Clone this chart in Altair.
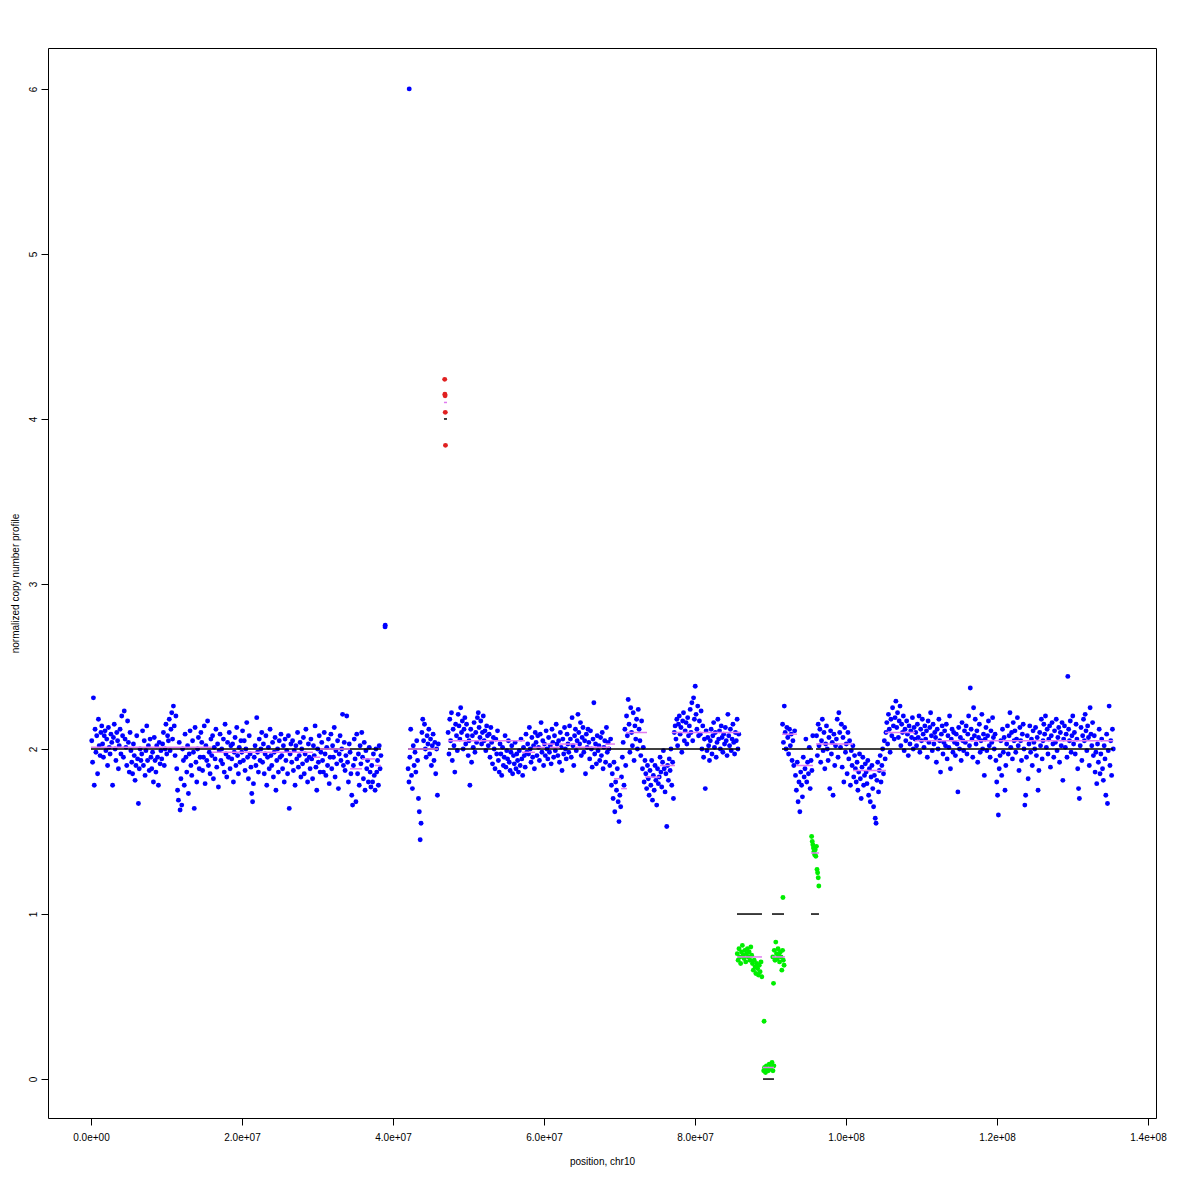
import altair as alt
import pandas as pd
import numpy as np

# ---------------- data (ratio * ploidy per window) ----------------
# run A: 0 - 38.4 Mb (normal)
A_VALS = [
2.05,1.92,2.31,1.78,2.12,1.98,2.08,1.85,2.18,2.02,1.96,2.10,
2.14,2.03,1.95,2.08,2.11,1.99,2.06,1.90,2.13,2.01,1.97,2.09,
2.04,1.78,2.07,2.15,2.00,1.93,2.10,2.05,1.88,2.02,2.12,1.97,
2.20,2.08,1.95,2.23,2.06,2.01,1.90,2.17,2.04,1.86,2.10,1.99,
1.92,1.85,2.03,1.96,1.81,1.90,2.08,1.94,1.67,1.88,2.00,1.93,
1.97,2.11,1.90,2.05,1.84,1.99,2.14,1.93,2.02,1.87,2.06,1.95,
1.88,1.98,1.80,2.07,1.93,1.86,2.02,1.95,1.78,2.04,1.91,1.99,
1.94,2.03,2.10,1.90,2.00,2.15,1.97,2.08,2.05,2.18,1.99,2.12,
2.22,2.06,2.26,2.14,1.96,2.20,1.88,1.75,1.69,2.04,1.63,1.82,
1.66,2.00,1.93,1.78,2.09,1.95,1.86,2.02,1.73,1.97,2.11,1.90,
1.84,2.05,1.98,1.64,2.13,1.92,1.80,2.00,2.07,1.88,1.95,2.10,
2.04,1.87,1.95,2.14,1.79,2.02,1.93,2.17,1.90,1.98,1.85,2.06,
1.96,2.08,1.82,2.01,1.94,2.12,1.89,2.03,1.77,1.99,2.09,1.93,
2.00,1.91,2.06,1.86,2.15,1.97,1.83,2.04,1.95,2.10,1.88,2.02,
1.94,2.03,1.80,1.98,2.07,1.90,2.13,1.96,1.85,2.01,1.92,2.05,
1.98,2.11,1.93,2.05,1.87,2.00,2.16,1.95,1.82,2.08,1.97,1.89,
1.73,1.68,1.79,1.95,2.02,1.90,2.19,1.98,1.86,2.06,1.93,2.00,
2.10,1.92,2.03,1.85,1.97,2.08,1.78,1.95,2.01,1.88,2.12,1.96,
1.90,2.04,1.83,1.98,2.07,1.75,1.93,2.00,1.86,2.05,1.95,2.09,
1.96,1.88,2.02,1.80,2.06,1.93,1.99,1.85,2.08,1.64,1.97,2.03,
1.92,2.05,1.87,1.99,1.78,2.02,1.94,2.10,1.89,1.96,2.04,1.83,
2.00,1.91,2.07,1.85,1.97,2.12,1.93,1.80,2.03,1.95,1.88,2.06,
1.94,1.82,2.02,1.96,2.14,1.89,1.75,2.00,1.92,2.08,1.86,1.98,
2.04,1.93,1.86,2.10,1.97,1.84,2.01,1.90,2.06,1.79,1.95,2.09,
1.88,2.02,1.95,2.13,1.83,1.99,1.91,2.05,1.76,1.97,2.08,1.93,
2.00,2.21,1.90,2.04,1.87,1.96,2.20,1.92,1.80,2.03,1.98,1.85,
1.72,1.66,1.90,2.06,1.94,1.68,2.09,1.85,1.97,1.78,2.02,1.91,
2.10,1.95,1.82,2.04,1.75,1.99,1.88,1.93,1.80,2.01,1.86,1.77,
1.90,1.80,1.97,1.84,1.75,2.00,1.86,1.93,1.78,2.02,1.88,1.96,
]
# run B: 42.0 - 46.0 Mb (normal)
B_VALS = [
1.88,1.80,1.95,2.12,1.84,1.76,2.02,1.90,1.98,1.86,2.05,1.93,
1.70,1.62,1.45,1.55,2.10,2.18,2.05,2.15,2.00,1.95,2.08,2.03,
2.12,1.97,2.06,1.90,2.02,2.09,1.93,2.04,1.85,2.00,1.72,2.03,
]
# run R: amplified windows near 46.9 Mb (gain)
R_VALS = [4.24, 4.15, 4.14, 4.04, 3.84]
# run C: 47.3 - 85.8 Mb (normal)
C_VALS = [
2.10,1.97,2.18,2.05,2.22,1.93,2.12,2.02,1.86,2.15,2.08,1.99,
2.21,2.14,2.06,2.25,2.10,2.17,2.00,2.12,2.19,2.03,2.15,2.08,
1.96,2.05,1.78,2.12,1.92,2.08,2.01,2.16,1.98,2.10,2.04,2.19,
2.22,2.13,2.07,2.17,2.03,2.10,2.20,2.05,2.11,1.99,2.14,2.08,
2.02,2.09,1.95,2.13,2.04,1.91,2.07,2.00,1.88,2.06,1.97,2.11,
1.93,1.86,2.03,1.97,1.84,2.01,1.90,1.95,2.08,1.89,1.99,1.94,
2.05,1.92,1.87,1.98,2.02,1.85,1.96,1.91,2.04,1.88,1.97,1.93,
1.86,1.99,1.90,2.06,1.94,1.84,2.01,1.96,1.89,2.09,1.98,2.03,
1.97,2.13,2.00,1.92,2.07,1.95,2.02,1.88,2.10,2.04,1.96,2.08,
2.01,1.93,2.09,2.16,1.98,2.05,1.90,2.03,1.96,2.11,2.00,1.94,
2.07,1.98,2.02,1.91,2.12,2.04,1.95,2.08,1.99,2.15,2.03,1.96,
2.05,1.92,2.10,2.01,1.87,2.06,1.97,2.13,2.00,1.94,2.09,2.03,
1.98,2.14,2.06,1.95,2.19,2.02,1.90,2.08,2.12,1.99,2.05,2.21,
2.10,2.03,2.16,1.96,2.07,2.13,1.98,2.05,1.85,2.09,2.01,2.12,
2.04,1.94,2.11,2.00,1.89,2.06,2.28,1.97,2.03,1.91,2.08,1.99,
2.02,1.93,2.07,1.96,2.10,1.88,2.01,2.05,1.92,2.13,1.98,2.04,
2.00,1.90,2.06,1.78,1.85,1.70,1.92,1.62,1.80,1.75,1.88,1.68,
1.56,1.72,1.65,1.83,1.95,2.04,1.78,2.12,1.90,2.20,2.08,2.30,
2.15,1.98,2.25,2.10,2.02,2.22,1.93,2.14,2.06,2.18,2.00,2.24,
2.12,2.05,1.96,2.17,1.88,2.01,1.80,1.93,1.85,1.76,1.90,1.82,
1.72,1.87,1.78,1.93,1.69,1.84,1.75,1.90,1.81,1.66,1.88,1.79,
1.83,1.95,1.86,1.77,1.92,1.99,1.88,1.74,1.85,1.53,1.90,1.81,
1.94,1.87,2.00,1.78,1.92,1.70,2.10,2.14,2.06,2.18,2.02,2.15,
2.20,2.09,2.13,1.98,2.17,2.22,2.05,2.11,2.16,2.03,2.19,2.08,
2.14,2.24,2.10,2.28,2.05,2.31,2.18,2.38,2.21,2.12,2.26,2.08,
2.17,2.09,2.23,2.00,2.14,1.95,2.06,1.76,2.11,1.99,2.07,2.02,
1.93,2.05,2.12,1.97,2.08,2.16,2.01,2.10,1.95,2.04,2.18,2.06,
2.11,2.00,2.14,2.07,1.98,2.09,2.03,2.13,2.05,1.96,2.21,2.08,
2.02,2.12,1.99,2.06,2.15,2.04,1.97,2.10,2.05,2.18,2.00,2.09,
]
# losses
L1_VALS = [
0.76,0.72,0.79,0.74,0.70,0.77,0.81,0.75,0.73,0.78,0.71,0.76,
0.79,0.74,0.77,0.72,0.80,0.75,0.70,0.66,0.72,0.68,0.64,0.70,
0.67,0.63,0.69,0.65,0.71,0.62,
]
L2_VALS = [0.05,0.07,0.04,0.08,0.06,0.05,0.09,0.06,0.07,0.10,0.05,0.08]
L3_VALS = [0.74,0.58,0.78,0.72,0.83,0.76,0.73,0.79,0.75,0.71,0.77,0.74,0.66,0.78,0.72,0.69]
L4_VALS = [1.47,1.44,1.42,1.40,1.38,1.36,1.39,1.35,1.41,1.27,1.25,1.22,1.17]
# run D: 91.6 - 95.6 Mb (normal)
D_VALS = [
2.15,2.04,2.26,2.10,2.00,2.13,2.07,1.97,2.12,2.02,2.09,1.93,
2.05,1.90,2.11,1.84,1.75,1.92,1.68,1.80,1.62,1.86,1.78,1.71,
1.95,1.83,1.88,2.06,1.80,1.92,1.85,2.01,1.76,1.93,1.87,2.08,
]
# run E: 96.1 - 135.4 Mb (normal)
E_VALS = [
2.08,1.96,2.15,2.02,2.12,1.92,2.05,2.18,1.99,2.10,1.88,2.03,
2.14,2.00,1.93,2.07,1.76,2.11,1.97,2.04,1.72,2.09,1.90,2.02,
2.06,2.18,1.95,2.22,2.10,2.01,2.15,1.89,2.07,1.80,2.13,1.98,
2.03,1.85,2.10,1.94,2.05,1.78,1.99,1.90,2.02,1.83,1.96,1.88,
1.80,1.92,1.75,1.86,1.97,1.82,1.70,1.89,1.95,1.78,1.84,1.91,
1.86,1.79,1.93,1.72,1.88,1.68,1.83,1.90,1.76,1.65,1.84,1.58,
1.55,1.81,1.92,1.74,1.87,1.96,1.80,1.90,2.00,1.85,2.05,1.94,
2.10,2.16,2.03,2.21,2.12,1.98,2.18,2.08,2.25,2.14,2.06,2.19,
2.29,2.13,2.22,2.07,2.17,2.26,2.02,2.15,2.10,2.20,1.99,2.12,
2.05,2.17,2.09,1.96,2.14,2.03,2.11,2.07,2.19,2.00,2.13,2.06,
2.10,2.02,2.15,2.07,2.20,1.98,2.12,2.05,2.18,2.09,2.01,2.14,
2.06,2.11,1.95,2.17,2.04,2.13,2.22,2.08,1.99,2.15,2.03,2.10,
2.07,1.92,2.12,2.00,2.18,2.05,1.86,2.09,2.14,1.97,2.04,2.11,
2.02,2.15,1.94,2.08,2.01,2.20,1.88,2.06,2.12,1.98,2.10,2.04,
1.96,2.09,2.03,1.74,2.13,2.00,2.07,1.93,2.16,2.05,1.99,2.11,
2.04,2.14,1.97,2.09,2.20,2.02,2.37,2.12,2.06,1.95,2.25,2.08,
2.18,2.03,2.11,1.92,2.07,2.15,1.98,2.05,2.21,2.00,2.09,1.84,
2.06,2.13,1.99,2.08,2.17,2.02,1.95,2.11,2.04,2.19,2.07,2.00,
2.09,1.93,1.80,1.72,1.60,1.88,1.96,2.05,1.84,2.12,1.98,2.07,
1.75,1.90,2.03,2.14,1.97,2.08,2.22,2.01,2.10,1.94,2.16,2.05,
2.11,1.98,2.06,2.19,2.02,1.87,2.13,2.05,1.93,2.09,2.15,2.00,
1.66,1.72,1.95,2.08,1.82,2.03,2.14,1.98,2.06,1.90,2.11,2.04,
2.00,2.13,1.96,2.07,1.75,1.87,2.10,2.02,2.18,1.94,2.05,2.15,
2.09,2.20,2.01,2.12,1.97,2.06,2.14,1.89,2.08,2.16,2.03,1.95,
2.11,2.04,2.18,1.99,2.07,2.13,1.92,2.10,2.02,2.16,1.81,2.06,
2.14,2.01,2.09,1.95,2.44,2.12,2.05,2.17,1.98,2.08,2.20,2.03,
2.10,1.97,2.15,2.06,1.88,1.76,1.70,2.02,2.13,1.93,2.08,2.18,
2.05,2.21,2.11,1.99,2.14,2.07,1.90,2.25,2.09,2.02,2.16,1.96,
2.08,1.86,1.98,1.79,2.03,1.92,2.12,1.85,1.97,2.06,1.88,1.81,
2.02,1.94,1.72,2.09,1.67,1.99,2.26,1.90,2.05,1.84,2.12,2.00,
]
# window runs: (values, first window bp, last window bp, status)
RUNS = [
    (A_VALS, 0.10e6, 38.40e6, "normal"),
    (B_VALS, 42.00e6, 46.00e6, "normal"),
    (R_VALS, 46.85e6, 46.95e6, "gain"),
    (C_VALS, 47.30e6, 85.80e6, "normal"),
    (L1_VALS, 85.60e6, 88.85e6, "loss"),
    (L2_VALS, 89.10e6, 90.45e6, "loss"),
    (L3_VALS, 90.30e6, 91.80e6, "loss"),
    (D_VALS, 91.60e6, 95.60e6, "normal"),
    (L4_VALS, 95.45e6, 96.40e6, "loss"),
    (E_VALS, 96.10e6, 135.40e6, "normal"),
]
# single windows
ISO_POS = [38.95e6, 38.97e6, 42.15e6, 89.15e6, 91.65e6]
ISO_VALS = [2.74, 2.75, 6.00, 0.35, 1.10]
ISO_STATUS = ["normal", "normal", "normal", "loss", "loss"]

# copy-number segments (black)
CN_START = [0.0, 41.99, 46.75, 47.28, 85.56, 89.01, 90.20, 91.52, 95.36, 96.03]
CN_END = [38.41, 45.96, 47.15, 85.96, 88.87, 90.46, 91.79, 95.63, 96.42, 135.36]
CN_VAL = [2, 2, 4, 2, 1, 0, 1, 2, 1, 2]

# median ratio segments (violet)
MED_START = [0.0, 16.03, 28.34, 29.40, 30.33, 34.30, 35.89, 37.62, 41.99, 46.75,
             47.28, 57.09, 58.54, 59.73, 60.79, 62.12, 64.11, 68.08, 69.27, 70.20,
             70.86, 73.38, 75.37, 76.96, 85.56, 89.01, 90.20, 91.52, 93.38, 95.36,
             96.03, 100.93, 105.17, 109.14]
MED_END = [16.03, 28.34, 29.40, 30.33, 34.30, 35.89, 37.62, 38.41, 45.96, 47.15,
           57.48, 58.81, 60.13, 61.46, 62.12, 64.50, 68.74, 69.40, 70.20, 70.99,
           73.64, 75.37, 77.35, 85.96, 88.87, 90.46, 91.92, 93.51, 95.63, 96.42,
           100.93, 105.30, 109.14, 135.36]
MED_VAL = [2.01, 1.98, 1.98, 1.95, 2.00, 1.88, 1.94, 1.90, 2.00, 4.10,
           2.05, 1.98, 2.01, 2.03, 2.01, 2.03, 2.01, 2.03, 1.82, 1.76,
           2.10, 1.83, 1.90, 2.10, 0.74, 0.07, 0.74, 2.09, 1.90, 1.37,
           2.03, 1.87, 2.10, 2.05]

XTICKS = [0, 2e7, 4e7, 6e7, 8e7, 1e8, 1.2e8, 1.4e8]
XTICK_LABELS = ["0.0e+00", "2.0e+07", "4.0e+07", "6.0e+07", "8.0e+07", "1.0e+08", "1.2e+08", "1.4e+08"]
YTICKS = [0, 1, 2, 3, 4, 5, 6]

# ---------------- tables ----------------
rows = []
for vals, s, e, st in RUNS:
    pos = np.linspace(s, e, len(vals))
    for p, v in zip(pos, vals):
        rows.append({"pos": float(p), "val": v, "status": st})
for p, v, st in zip(ISO_POS, ISO_VALS, ISO_STATUS):
    rows.append({"pos": p, "val": v, "status": st})
pts = pd.DataFrame(rows)

cn = pd.DataFrame({"pos": [s * 1e6 for s in CN_START], "pos2": [e * 1e6 for e in CN_END], "val": CN_VAL})
med = pd.DataFrame({"pos": [s * 1e6 for s in MED_START], "pos2": [e * 1e6 for e in MED_END], "val": MED_VAL})

FONT = "Liberation Sans"
label_expr = "[" + ",".join("'%s'" % l for l in XTICK_LABELS) + "][round(datum.value/2e7)]"

x_scale = alt.Scale(domain=[-5.695e6, 1.4106e8], nice=False, zero=False)
y_scale = alt.Scale(domain=[-0.236, 6.248], nice=False, zero=False)

x_axis = alt.Axis(values=XTICKS, labelExpr=label_expr, title="position, chr10",
                  grid=False, domain=False, tickSize=7, tickColor="black",
                  labelColor="black", titleColor="black", labelFont=FONT, titleFont=FONT,
                  labelFontSize=10, titleFontSize=10, titleFontWeight="normal",
                  labelPadding=7, titlePadding=14, labelFlush=False)
y_axis = alt.Axis(values=YTICKS, title="normalized copy number profile",
                  grid=False, domain=False, tickSize=7, tickColor="black",
                  labelColor="black", titleColor="black", labelFont=FONT, titleFont=FONT,
                  labelFontSize=10, titleFontSize=10, titleFontWeight="normal",
                  labelAngle=270, labelAlign="center", labelBaseline="bottom",
                  labelPadding=3, titlePadding=8, labelFlush=False)

points = alt.Chart(pts).mark_circle(size=24, opacity=1).encode(
    x=alt.X("pos:Q", scale=x_scale, axis=x_axis),
    y=alt.Y("val:Q", scale=y_scale, axis=y_axis),
    color=alt.Color("status:N", scale=alt.Scale(domain=["normal", "gain", "loss"],
                                                range=["#0000FF", "#E02020", "#00EE00"]),
                    legend=None),
)
cn_rules = alt.Chart(cn).mark_rule(color="black", strokeWidth=1.5).encode(
    x=alt.X("pos:Q", scale=x_scale, axis=x_axis), x2="pos2:Q",
    y=alt.Y("val:Q", scale=y_scale, axis=y_axis),
)
med_rules = alt.Chart(med).mark_rule(color="#E07BF0", strokeWidth=1.5).encode(
    x=alt.X("pos:Q", scale=x_scale, axis=x_axis), x2="pos2:Q",
    y=alt.Y("val:Q", scale=y_scale, axis=y_axis),
)

chart = alt.layer(points, cn_rules, med_rules).properties(
    width=1108, height=1070,
    padding={"left": 40, "top": 40, "right": 16, "bottom": 50},
    autosize=alt.AutoSizeParams(type="none"),
    background="white",
).configure_view(stroke="black", strokeWidth=1)

chart.save("out.html", embed_options={"renderer": "svg", "actions": False})
